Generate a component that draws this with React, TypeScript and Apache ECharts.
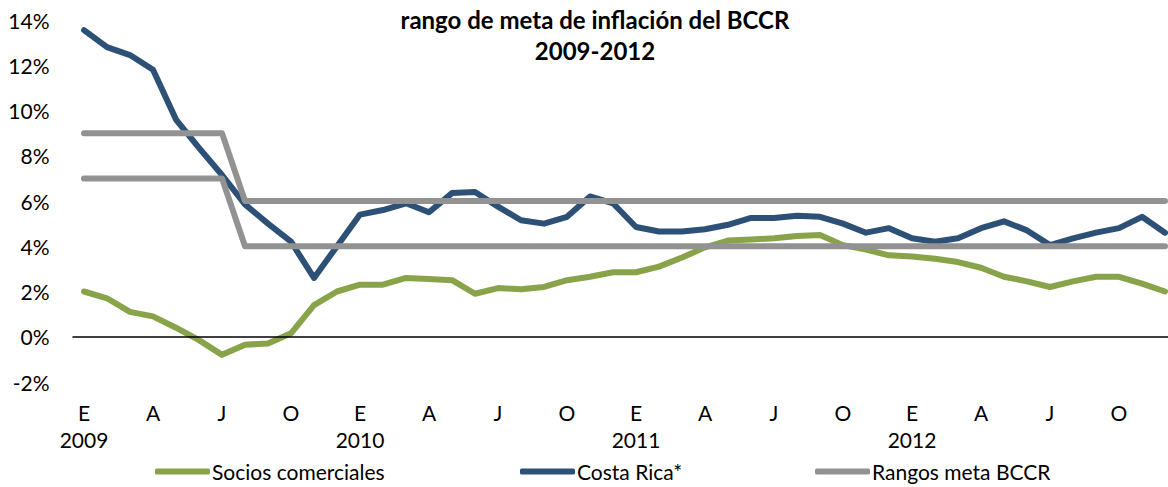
import React, { useEffect, useRef } from "react";
import * as echarts from "echarts";

const monthLetters = ["E", "F", "M", "A", "M", "J", "J", "A", "S", "O", "N", "D"];
const years = ["2009", "2010", "2011", "2012"];
const categories: string[] = [];
years.forEach((y) => monthLetters.forEach((m) => categories.push(m + " " + y)));

const socios = [
  2.0, 1.7, 1.1, 0.9, 0.4, -0.15, -0.8, -0.35, -0.3, 0.15, 1.4, 2.0,
  2.3, 2.3, 2.6, 2.55, 2.5, 1.9, 2.15, 2.1, 2.2, 2.5, 2.65, 2.85,
  2.85, 3.1, 3.5, 3.95, 4.25, 4.3, 4.35, 4.45, 4.5, 4.05, 3.85, 3.6,
  3.55, 3.45, 3.3, 3.05, 2.65, 2.45, 2.2, 2.45, 2.65, 2.65, 2.35, 2.0,
];
const costaRica = [
  13.55, 12.8, 12.45, 11.8, 9.6, 8.35, 7.15, 5.85, 5.0, 4.2, 2.6, 4.0,
  5.4, 5.6, 5.9, 5.5, 6.35, 6.4, 5.75, 5.15, 5.0, 5.3, 6.2, 5.9,
  4.85, 4.65, 4.65, 4.75, 4.95, 5.25, 5.25, 5.35, 5.3, 5.0, 4.6, 4.8,
  4.35, 4.2, 4.35, 4.8, 5.1, 4.7, 4.05, 4.35, 4.6, 4.8, 5.3, 4.6,
];
const rangoSup = [
  9, 9, 9, 9, 9, 9, 9, 6, 6, 6, 6, 6,
  6, 6, 6, 6, 6, 6, 6, 6, 6, 6, 6, 6,
  6, 6, 6, 6, 6, 6, 6, 6, 6, 6, 6, 6,
  6, 6, 6, 6, 6, 6, 6, 6, 6, 6, 6, 6,
];
const rangoInf = [
  7, 7, 7, 7, 7, 7, 7, 4, 4, 4, 4, 4,
  4, 4, 4, 4, 4, 4, 4, 4, 4, 4, 4, 4,
  4, 4, 4, 4, 4, 4, 4, 4, 4, 4, 4, 4,
  4, 4, 4, 4, 4, 4, 4, 4, 4, 4, 4, 4,
];

const titleText = "rango de meta de inflación del BCCR\n2009-2012";
const FONT = "Lato";
const GREEN = "#88A34A";
const BLUE = "#2D5176";
const GRAY = "#929292";

export default function App() {
  const ref = useRef<HTMLDivElement>(null);
  useEffect(() => {
    if (!ref.current) return;
    const chart = echarts.init(ref.current, undefined, { renderer: "svg" });
    const lineSeries = (name: string, data: number[], color: string, extra: any = {}) => ({
      name,
      type: "line",
      data,
      symbol: "none",
      smooth: false,
      lineStyle: { color, width: 6, cap: "round", join: "round" },
      itemStyle: { color },
      ...extra,
    });
    const legendCommon = {
      top: 461,
      padding: 0,
      icon: "roundRect",
      itemWidth: 55,
      itemHeight: 6,
      textStyle: { fontFamily: FONT, fontSize: 21, color: "#000", padding: [0, 0, 0, -3] },
      selectedMode: false,
    };
    chart.setOption({
      animation: false,
      backgroundColor: "#fff",
      title: {
        text: titleText,
        left: 595,
        textAlign: "center",
        top: 4,
        padding: 0,
        textStyle: { fontFamily: FONT, fontSize: 24, fontWeight: "bold", color: "#000", lineHeight: 31 },
      },
      legend: [
        { ...legendCommon, left: 155, data: ["Socios comerciales"] },
        { ...legendCommon, left: 520, data: ["Costa Rica*"] },
        { ...legendCommon, left: 815, data: ["Rangos meta BCCR"] },
      ],
      grid: { left: 72.5, top: 20, width: 1104, height: 362, containLabel: false },
      xAxis: {
        type: "category",
        data: categories,
        boundaryGap: true,
        axisLine: { show: false },
        axisTick: { show: false },
        splitLine: { show: false },
        axisLabel: {
          interval: 2,
          margin: 17,
          fontFamily: FONT,
          fontSize: 21,
          color: "#000",
          lineHeight: 27,
          formatter: (value: string, index: number) => {
            const [m, y] = value.split(" ");
            return index % 12 === 0 ? m + "\n" + y : m;
          },
        },
      },
      yAxis: {
        type: "value",
        min: -2,
        max: 14,
        interval: 2,
        axisLine: { show: false },
        axisTick: { show: false },
        splitLine: { show: false },
        axisLabel: {
          margin: 23,
          fontFamily: FONT,
          fontSize: 21,
          color: "#000",
          formatter: "{value}%",
        },
      },
      series: [
        lineSeries("Socios comerciales", socios, GREEN, {
          markLine: {
            silent: true,
            symbol: "none",
            label: { show: false },
            lineStyle: { color: "#000", width: 1.5, type: "solid" },
            data: [{ yAxis: 0 }],
          },
        }),
        lineSeries("Costa Rica*", costaRica, BLUE),
        lineSeries("Rangos meta BCCR", rangoSup, GRAY),
        lineSeries("Rangos meta BCCR", rangoInf, GRAY),
      ],
    });
    return () => chart.dispose();
  }, []);
  return (
    <div
      style={{ position: "absolute", left: 0, top: 0, width: 1168, height: 487, overflow: "hidden" }}
    >
      <div ref={ref} style={{ width: 1180, height: 487 }} />
    </div>
  );
}
